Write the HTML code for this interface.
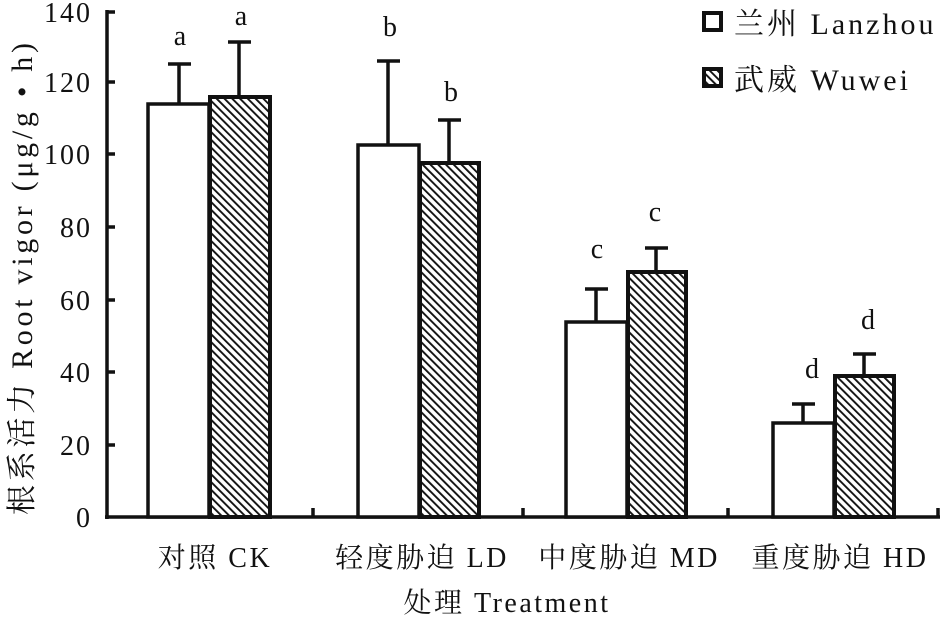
<!DOCTYPE html>
<html><head><meta charset="utf-8"><style>
html,body{margin:0;padding:0;background:#fff;}
svg{display:block;}
text{font-family:"Liberation Serif","Noto Serif CJK SC","Noto Sans CJK SC",serif;fill:#111;}
</style></head><body>
<svg width="947" height="617" viewBox="0 0 947 617" xmlns="http://www.w3.org/2000/svg">
<defs>
<pattern id="h" patternUnits="userSpaceOnUse" width="5.5" height="5.5" patternTransform="rotate(-45)">
<rect width="5.5" height="5.5" fill="#fff"/>
<rect x="0" y="0" width="1.9" height="5.5" fill="#111"/>
</pattern>
</defs>
<g stroke="#111" stroke-width="3.5" fill="none">
<line x1="107" y1="10" x2="107" y2="519"/>
<line x1="105" y1="517" x2="940" y2="517"/>
<line x1="107" y1="12" x2="115" y2="12"/>
<line x1="107" y1="82" x2="115" y2="82"/>
<line x1="107" y1="154" x2="115" y2="154"/>
<line x1="107" y1="227" x2="115" y2="227"/>
<line x1="107" y1="300" x2="115" y2="300"/>
<line x1="107" y1="372" x2="115" y2="372"/>
<line x1="107" y1="445" x2="115" y2="445"/>
<line x1="313" y1="517" x2="313" y2="508"/>
<line x1="523" y1="517" x2="523" y2="508"/>
<line x1="728" y1="517" x2="728" y2="508"/>
<line x1="938" y1="517" x2="938" y2="508"/>
<line x1="179" y1="104" x2="179" y2="64"/><line x1="168" y1="64" x2="191" y2="64"/>
<line x1="239" y1="97" x2="239" y2="42"/><line x1="228" y1="42" x2="251" y2="42"/>
<line x1="388" y1="145" x2="388" y2="61"/><line x1="377" y1="61" x2="400" y2="61"/>
<line x1="449" y1="163" x2="449" y2="120"/><line x1="438" y1="120" x2="461" y2="120"/>
<line x1="596" y1="322" x2="596" y2="289"/><line x1="585" y1="289" x2="608" y2="289"/>
<line x1="656" y1="272" x2="656" y2="248"/><line x1="645" y1="248" x2="668" y2="248"/>
<line x1="803" y1="423" x2="803" y2="404"/><line x1="792" y1="404" x2="815" y2="404"/>
<line x1="864" y1="376" x2="864" y2="354"/><line x1="853" y1="354" x2="876" y2="354"/>
</g>
<g stroke="#111" stroke-width="3.5">
<rect x="148" y="104" width="61" height="413" fill="#fff"/>
<rect x="210" y="97" width="60" height="420" fill="url(#h)" stroke-width="4"/>
<rect x="358" y="145" width="61" height="372" fill="#fff"/>
<rect x="420" y="163" width="59" height="354" fill="url(#h)" stroke-width="4"/>
<rect x="566" y="322" width="61" height="195" fill="#fff"/>
<rect x="628" y="272" width="58" height="245" fill="url(#h)" stroke-width="4"/>
<rect x="773" y="423" width="61" height="94" fill="#fff"/>
<rect x="835" y="376" width="59" height="141" fill="url(#h)" stroke-width="4"/>
</g>
<g font-size="28" text-anchor="middle">
<text x="180" y="45">a</text><text x="241" y="25">a</text>
<text x="390" y="36">b</text><text x="451" y="101">b</text>
<text x="597" y="258">c</text><text x="655" y="221">c</text>
<text x="812" y="378">d</text><text x="868" y="329">d</text>
</g>
<g font-size="28" text-anchor="end" letter-spacing="2">
<text x="92" y="22">140</text>
<text x="92" y="92">120</text>
<text x="92" y="164">100</text>
<text x="92" y="237">80</text>
<text x="92" y="310">60</text>
<text x="92" y="382">40</text>
<text x="92" y="455">20</text>
<text x="92" y="527">0</text>
</g>
<text transform="translate(32,279) rotate(-90)" font-size="30" textLength="472" lengthAdjust="spacing" text-anchor="middle">根系活力 Root vigor (μg/g • h)</text>
<g font-size="28" text-anchor="middle" letter-spacing="2.5">
<text x="215" y="567">对照  CK</text>
<text x="422" y="567">轻度胁迫  LD</text>
<text x="629" y="567">中度胁迫  MD</text>
<text x="840" y="567">重度胁迫  HD</text>
<text x="507" y="612">处理 Treatment</text>
</g>
<rect x="704" y="13" width="17" height="17" fill="#fff" stroke="#111" stroke-width="4"/>
<rect x="704" y="69" width="17" height="17" fill="url(#h)" stroke="#111" stroke-width="4"/>
<g font-size="30" letter-spacing="3">
<text x="734" y="34">兰州 Lanzhou</text>
<text x="734" y="90">武威 Wuwei</text>
</g>
</svg>
</body></html>
